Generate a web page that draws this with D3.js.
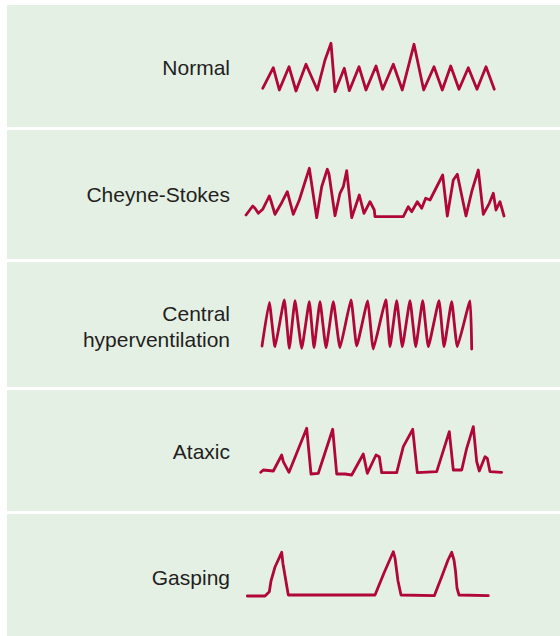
<!DOCTYPE html>
<html>
<head>
<meta charset="utf-8">
<script src="https://cdn.jsdelivr.net/npm/d3@7"></script>
<style>
  body { margin: 0; background: #fff; }
  svg { display: block; }
  .label { font-family: "Liberation Sans", Arial, Helvetica, sans-serif; font-size: 21px; fill: #231f20; }
</style>
</head>
<body>
<div id="chart"></div>
<script>
// breathing patterns, [time, amplitude]
const patternNames = [["Normal"], ["Cheyne-Stokes"], ["Central", "hyperventilation"], ["Ataxic"], ["Gasping"]];

const normal = [[22.7,3.7],[33.3,24.3],[39.3,2],[49,25.3],[56,1],[66,27.7],[77.3,2],[85,32],[91,48.7],[95,0.3],
  [104.3,23.7],[109.3,1.3],[119,25.3],[126,2],[136,26],[142.7,2.7],[153.3,27.7],[162.3,2],[174,47.7],[183.7,2],
  [194,25.3],[202.3,2],[210.7,26],[219,2.7],[228.3,24.3],[237,2.7],[246,25.3],[254.3,2.7]];

const cheyneStokes = [[6,2],[12.7,11],[15,8.7],[18.3,3.7],[22.7,7.7],[29.3,21],[30.7,17],[35,2.7],[41.7,14.3],
  [47.3,25.3],[53.3,2.7],[59.3,17],[69.3,48.7],[76.7,-0.7],[81.7,30.3],[87.3,47.7],[89,43],[95,1.3],[100,23.7],
  [103.3,30.3],[106.7,46.3],[111.7,-0.7],[119.3,22],[124,3.7],[130,15.3],[134.3,7],[135,0.3],[163.3,0.3],
  [168.3,10.3],[171.7,5.3],[177.3,15.3],[181.7,8.7],[185.7,18.7],[190,17],[202.7,42],[207.3,1],[213.3,37],
  [217.3,42.7],[226,1],[231.7,25.3],[238.3,47],[243.3,2.7],[249.3,13.7],[253.3,23.7],[256,7],[260,15.3],[264,1]];

const centralHyper = [[22,2],[29.3,45.7],[35,1.3],[44.3,48],[49.3,-0.3],[55,47.3],[61.7,-0.3],[69.3,46.3],[74,0.3],
  [80,46.3],[86,0.3],[93.3,46.3],[100,0.3],[111,48],[116.7,2],[127.7,47],[133.3,-1],[145.7,48],[150,1.3],
  [156.7,47.3],[162.3,1.3],[170,47.3],[175.7,1.3],[182.7,47.3],[188.3,1.3],[199,47.3],[204,1.3],[211.7,46.3],
  [217.3,1.3],[230,47],[231.7,-1]];

const ataxic = [[20.7,0.7],[23.3,3],[33.3,2],[41.7,18],[43.3,11.3],[49,0.7],[66.7,44.7],[71,-1],[78.3,-0.3],
  [92.7,43.7],[96.7,-1],[105,-1],[111.7,-2],[123.3,19],[127.3,-0.3],[136,18],[139.3,16.3],[141.7,0.3],[156.7,0.3],
  [163.3,26.3],[172.7,43.7],[177.3,0.3],[196.7,1.3],[209.3,41.3],[213.3,3],[221.7,3],[226.7,24.7],[233.3,46.3],
  [236.7,11.3],[239.3,2],[245,16.3],[247.3,14.7],[250,1.3],[261.7,0.7]];

const gasping = [[7.3,0],[25,0],[29.3,4.3],[31,15],[35,29],[41.7,43.7],[43,32],[48.3,1],[135,1],[144,23],[153.3,44.3],
  [155,38],[158,15],[161,1],[194.3,0.3],[201.7,19.3],[208,36],[211.7,43.7],[214,36],[215.5,25],[217,8],[219,1],[248.3,0.3]];

const patterns = [normal, cheyneStokes, centralHyper, ataxic, gasping];

// layout
const width = 560, height = 636;
const bands = [[5, 127], [130, 259], [262, 387], [390, 511], [514, 636]];
const baselines = [92, 217, 348, 473, 596];
const labelY = [68, 195, 327, 452, 578];
const curves = [d3.curveLinear, d3.curveLinear, d3.curveCardinal.tension(0.6), d3.curveLinear, d3.curveLinear];

const svg = d3.select("#chart").append("svg")
  .attr("width", width)
  .attr("height", height);

const x = d3.scaleLinear().domain([0, 280]).range([240, 520]);

bands.forEach((b, i) => {
  const g = svg.append("g");

  g.append("rect")
    .attr("x", 7)
    .attr("y", b[0])
    .attr("width", width - 7)
    .attr("height", b[1] - b[0])
    .attr("fill", "#e5f0e4");

  const lines = patternNames[i];
  g.append("text")
    .attr("class", "label")
    .attr("text-anchor", "end")
    .attr("x", 230)
    .attr("y", labelY[i])
    .selectAll("tspan")
    .data(lines)
    .join("tspan")
    .attr("x", 230)
    .attr("dy", (d, j) => j === 0 ? (-(lines.length - 1) * 13 + 7) + "px" : "26px")
    .text(d => d);

  const y = d3.scaleLinear().domain([0, 50]).range([baselines[i], baselines[i] - 50]);

  const line = d3.line()
    .curve(curves[i])
    .x(d => x(d[0]))
    .y(d => y(d[1]));

  g.append("path")
    .datum(patterns[i])
    .attr("d", line)
    .attr("fill", "none")
    .attr("stroke", "#b0063a")
    .attr("stroke-width", 2.8)
    .attr("stroke-linejoin", "round")
    .attr("stroke-linecap", "round");
});
</script>
</body>
</html>
